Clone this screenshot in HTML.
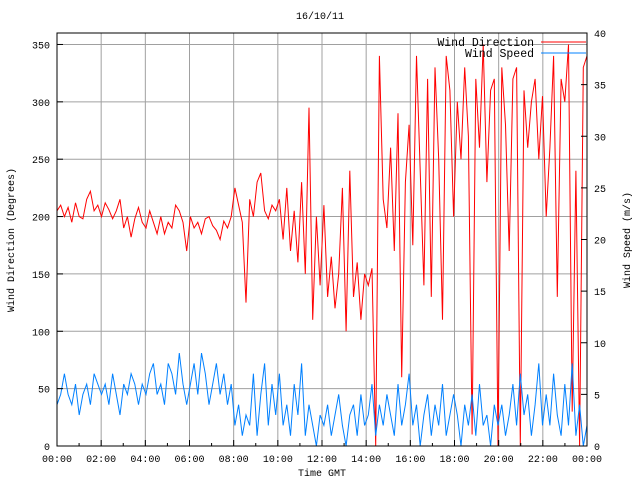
<!DOCTYPE html>
<html><head><meta charset="utf-8"><style>
body{margin:0;background:#fff}
svg{display:block;font-family:"Liberation Mono","DejaVu Sans Mono",monospace;font-size:10px}
</style></head><body>
<svg id="chart" width="640" height="480">
<rect width="640" height="480" fill="#fff"/>
<g id="grid"></g>
<g id="series"></g>
<rect x="57" y="33" width="530" height="413" fill="none" stroke="#000" stroke-width="1"/>
<g id="ticks"></g>
<text x="320" y="19" text-anchor="middle">16/10/11</text>
<text x="322" y="476" text-anchor="middle">Time GMT</text>
<text transform="translate(14,240) rotate(-90)" text-anchor="middle">Wind Direction (Degrees)</text>
<text transform="translate(630,240) rotate(-90)" text-anchor="middle">Wind Speed (m/s)</text>
<g style="font-size:11.5px">
<text x="534" y="46" text-anchor="end">Wind Direction</text>
<line x1="541" y1="42" x2="586" y2="42" stroke="#ff0000"/>
<text x="534" y="57" text-anchor="end">Wind Speed</text>
<line x1="541" y1="53" x2="586" y2="53" stroke="#0080ff"/>
</g>
</svg>
<script>
const xTickLabels=["00:00","02:00","04:00","06:00","08:00","10:00","12:00","14:00","16:00","18:00","20:00","22:00","00:00"];
const leftTicks=[0,50,100,150,200,250,300,350];
const rightTicks=[0,5,10,15,20,25,30,35,40];
const direction=[205,210,200,208,195,212,200,198,215,222,205,210,
200,212,206,198,205,215,190,200,182,198,208,195,
190,205,195,185,200,185,195,190,210,205,195,170,
200,190,195,185,198,200,192,188,180,196,190,200,
225,210,195,125,215,200,230,238,205,198,210,205,
215,180,225,170,205,160,230,150,295,110,200,140,
210,130,165,120,150,225,100,240,130,160,110,150,
140,155,0,340,215,190,260,170,290,60,230,280,
175,340,240,140,320,130,330,250,110,340,310,200,
300,250,330,270,10,320,260,350,230,310,320,0,
330,280,170,320,330,0,310,260,300,320,250,305,
200,260,340,130,320,300,350,30,240,0,330,340];
const speed=[4,5,7,5,4,6,3,5,6,4,7,6,
5,6,4,7,5,3,6,5,7,6,4,6,
5,7,8,5,6,4,8,7,5,9,6,4,
6,8,5,9,7,4,6,8,5,7,4,6,
2,4,1,3,2,7,1,5,8,2,6,3,
7,2,4,1,6,3,8,1,4,2,0,3,
2,4,1,3,5,2,0,3,4,1,5,2,
3,6,1,4,2,5,3,1,6,2,4,7,
2,4,0,3,5,1,4,2,6,1,3,5,
3,0,4,2,5,1,6,2,3,0,4,2,
4,1,3,6,2,7,3,5,1,4,8,2,
5,2,7,3,1,6,2,8,1,4,0,2];
const X0=57,X1=587,Y0=446,Y1=33;
const xHour=h=>X0+(X1-X0)*h/24;
const yDir=v=>Y0-(Y0-Y1)*v/360;
const ySpd=v=>Y0-(Y0-Y1)*v/40;
const NS="http://www.w3.org/2000/svg";
function mk(tag,attrs,parent){const e=document.createElementNS(NS,tag);for(const k in attrs)e.setAttribute(k,attrs[k]);parent.appendChild(e);return e;}
const grid=document.getElementById('grid'),ticks=document.getElementById('ticks'),series=document.getElementById('series');
xTickLabels.forEach((l,i)=>{const x=xHour(i*2);
 if(i>0&&i<xTickLabels.length-1){const g=mk('line',{x1:x,x2:x,y1:Y1,y2:Y0,stroke:'#a0a0a0'},grid);
 
 }
 const t=mk('text',{x:x,y:462,'text-anchor':'middle'},ticks);t.textContent=l;
 
 });
for(let h=1;h<24;h++){mk('line',{x1:xHour(h),x2:xHour(h),y1:Y0,y2:Y0-(h%2?3:6),stroke:'#000'},ticks);}
leftTicks.forEach(v=>{const y=yDir(v);
 if(v>0){const g=mk('line',{x1:X0,x2:X1,y1:y,y2:y,stroke:'#a0a0a0'},grid);
 
 }
 mk('line',{x1:X0,x2:X0+6,y1:y,y2:y,stroke:'#000'},ticks);
 const t=mk('text',{x:50,y:y+4,'text-anchor':'end'},ticks);t.textContent=v;
 
 });
rightTicks.forEach(v=>{const y=ySpd(v);
 mk('line',{x1:X1-6,x2:X1,y1:y,y2:y,stroke:'#000'},ticks);
 const t=mk('text',{x:594,y:y+4,'text-anchor':'start'},ticks);t.textContent=v;
 
 });
function pts(arr,yf){return arr.map((v,i)=>xHour(i*24/(arr.length-1)).toFixed(1)+','+yf(v).toFixed(1)).join(' ');}
const pd=mk('polyline',{points:pts(direction,yDir),fill:'none',stroke:'#ff0000','stroke-width':1},series);


const ps=mk('polyline',{points:pts(speed,ySpd),fill:'none',stroke:'#0080ff','stroke-width':1},series);


</script>
</body></html>
